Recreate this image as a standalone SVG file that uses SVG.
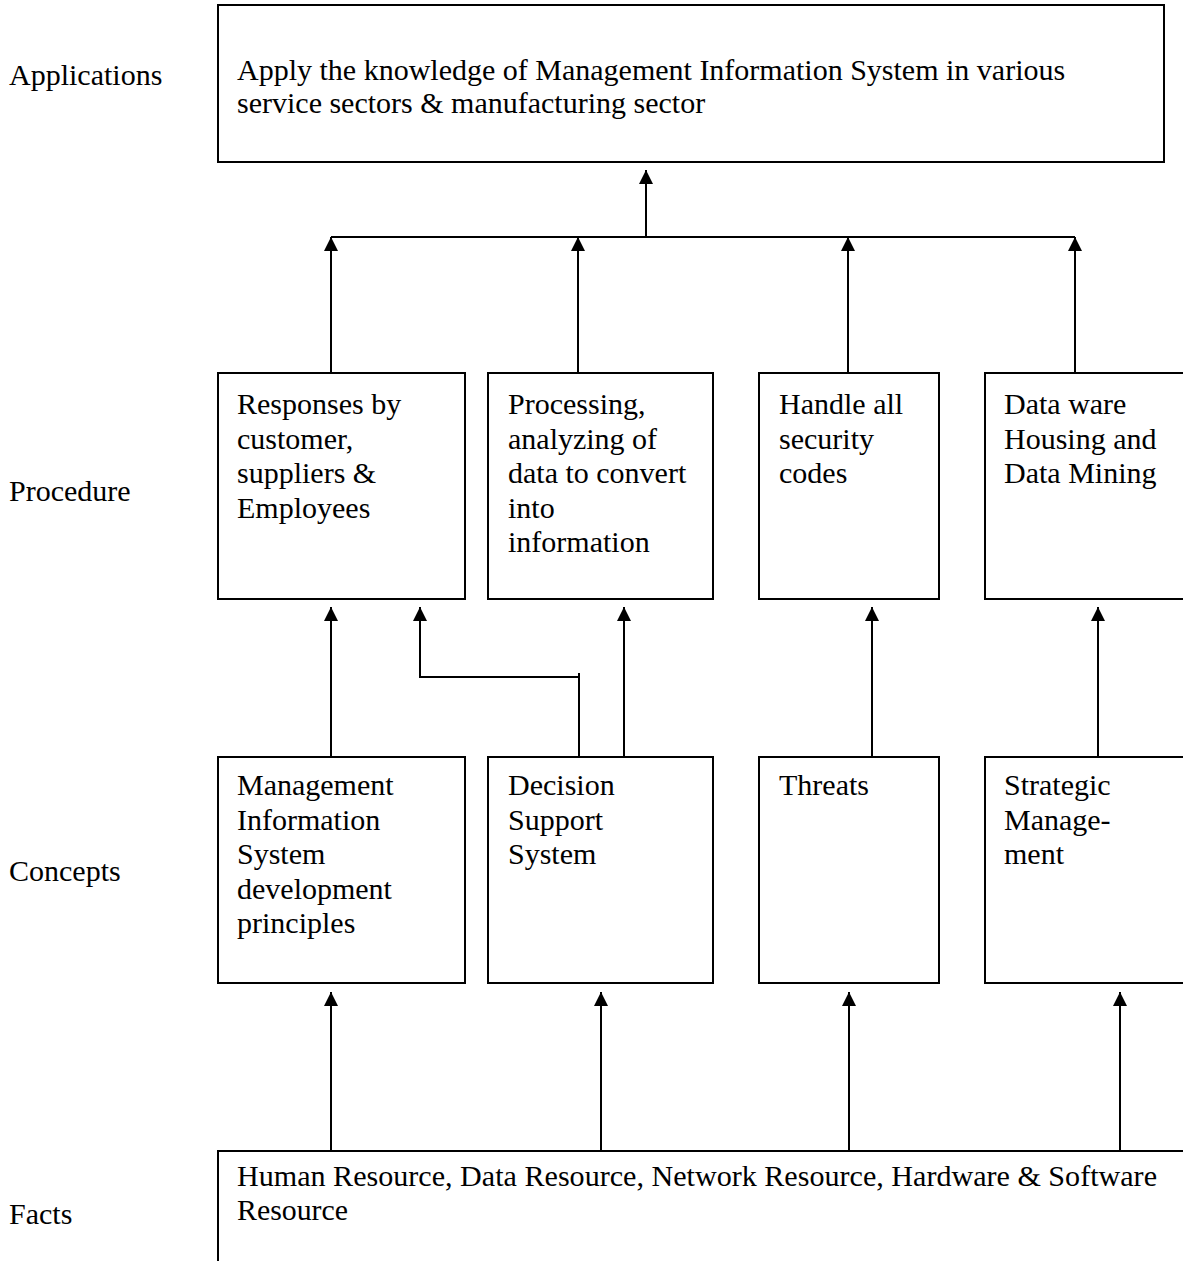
<svg xmlns="http://www.w3.org/2000/svg" width="1183" height="1261" viewBox="0 0 1183 1261">
<style>
text{font-family:"Liberation Serif","Times New Roman",serif;font-size:30px;fill:#000}
.box{fill:#fff;stroke:#000;stroke-width:2}
.ln{fill:none;stroke:#000;stroke-width:2}
</style>
<defs>
<marker id="ah" markerUnits="userSpaceOnUse" markerWidth="16" markerHeight="16" refX="14" refY="7" orient="auto">
<path d="M0,0 L14,7 L0,14 Z" fill="#000"/>
</marker>
</defs>
<rect width="1183" height="1261" fill="#fff"/>
<g id="labels">
<text x="9" y="85">Applications</text>
<text x="9" y="501">Procedure</text>
<text x="9" y="881">Concepts</text>
<text x="9" y="1224">Facts</text>
</g>
<g id="connectors">
<path class="ln" d="M646,237 V170" marker-end="url(#ah)"/>
<path class="ln" d="M331,237 H1075"/>
<path class="ln" d="M331,373 V237" marker-end="url(#ah)"/>
<path class="ln" d="M578,373 V237" marker-end="url(#ah)"/>
<path class="ln" d="M848,373 V237" marker-end="url(#ah)"/>
<path class="ln" d="M1075,373 V237" marker-end="url(#ah)"/>
<path class="ln" d="M331,757 V607" marker-end="url(#ah)"/>
<path class="ln" d="M624,757 V607" marker-end="url(#ah)"/>
<path class="ln" d="M872,757 V607" marker-end="url(#ah)"/>
<path class="ln" d="M1098,757 V607" marker-end="url(#ah)"/>
<path class="ln" d="M579,763 V677 H420 V607" marker-end="url(#ah)"/>
<path class="ln" d="M579,673 V677"/>
<path class="ln" d="M331,1151 V992" marker-end="url(#ah)"/>
<path class="ln" d="M601,1151 V992" marker-end="url(#ah)"/>
<path class="ln" d="M849,1151 V992" marker-end="url(#ah)"/>
<path class="ln" d="M1120,1151 V992" marker-end="url(#ah)"/>
</g>
<g id="applications">
<rect class="box" x="218" y="5" width="946" height="157"/>
<text x="237" y="80">Apply the knowledge of Management Information System in various</text>
<text x="237" y="113">service sectors &amp; manufacturing sector</text>
</g>
<g id="proc1">
<rect class="box" x="218" y="373" width="247" height="226"/>
<text x="237" y="414">Responses by</text>
<text x="237" y="448.5">customer,</text>
<text x="237" y="483">suppliers &amp;</text>
<text x="237" y="517.5">Employees</text>
</g>
<g id="proc2">
<rect class="box" x="488" y="373" width="225" height="226"/>
<text x="508" y="414">Processing,</text>
<text x="508" y="448.5">analyzing of</text>
<text x="508" y="483">data to convert</text>
<text x="508" y="517.5">into</text>
<text x="508" y="552">information</text>
</g>
<g id="proc3">
<rect class="box" x="759" y="373" width="180" height="226"/>
<text x="779" y="414">Handle all</text>
<text x="779" y="448.5">security</text>
<text x="779" y="483">codes</text>
</g>
<g id="proc4">
<rect class="box" x="985" y="373" width="210" height="226"/>
<text x="1004" y="414">Data ware</text>
<text x="1004" y="448.5">Housing and</text>
<text x="1004" y="483">Data Mining</text>
</g>
<g id="con1">
<rect class="box" x="218" y="757" width="247" height="226"/>
<text x="237" y="795">Management</text>
<text x="237" y="829.5">Information</text>
<text x="237" y="864">System</text>
<text x="237" y="898.5">development</text>
<text x="237" y="933">principles</text>
</g>
<g id="con2">
<rect class="box" x="488" y="757" width="225" height="226"/>
<text x="508" y="795">Decision</text>
<text x="508" y="829.5">Support</text>
<text x="508" y="864">System</text>
</g>
<g id="con3">
<rect class="box" x="759" y="757" width="180" height="226"/>
<text x="779" y="795">Threats</text>
</g>
<g id="con4">
<rect class="box" x="985" y="757" width="210" height="226"/>
<text x="1004" y="795">Strategic</text>
<text x="1004" y="829.5">Manage-</text>
<text x="1004" y="864">ment</text>
</g>
<g id="facts">
<rect class="box" x="218" y="1151" width="1000" height="130"/>
<text x="237" y="1186" textLength="920" lengthAdjust="spacingAndGlyphs">Human Resource, Data Resource, Network Resource, Hardware &amp; Software</text>
<text x="237" y="1220" textLength="111" lengthAdjust="spacingAndGlyphs">Resource</text>
</g>
</svg>
